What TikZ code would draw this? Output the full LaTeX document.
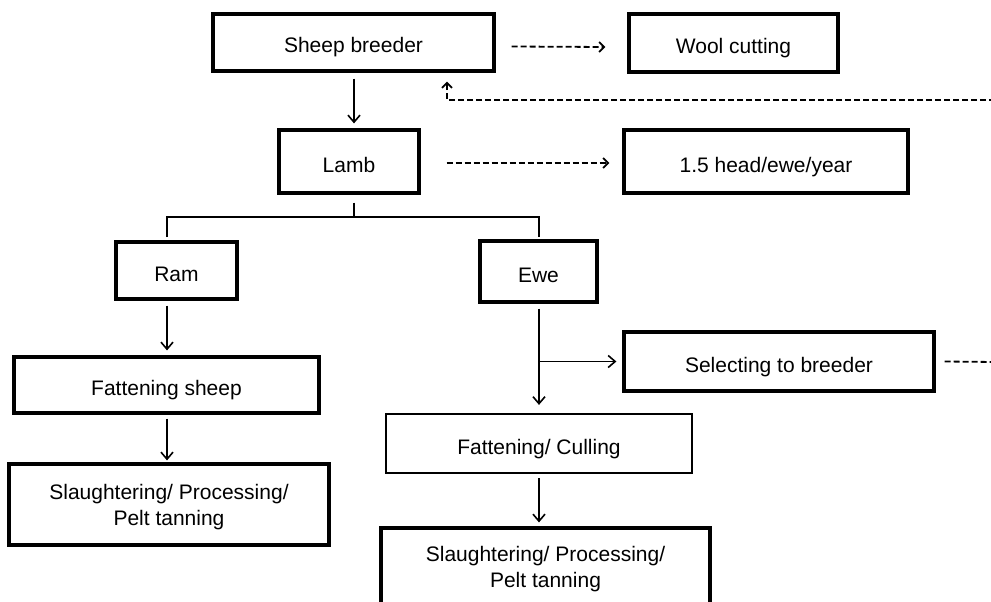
\documentclass[tikz,border=0pt]{standalone}
\usepackage{fontspec}
\setmainfont{Liberation Sans}
\usetikzlibrary{arrows.meta}
\begin{document}
\begin{tikzpicture}[x=1pt,y=-1pt,
  box/.style={draw, line width=3.2pt, inner sep=0pt, align=center, font=\fontsize{21}{26}\selectfont, text depth=0pt},
  onebox/.style={box, text height=21pt},
  thinbox/.style={onebox, line width=2.2pt},
  conn/.style={line width=1.6pt},
  arr/.style={conn, -{Straight Barb[length=7pt,width=12pt,line width=1.6pt]}},
  dline/.style={line width=1.8pt, dash pattern=on 6pt off 3pt},
  darr/.style={dline, -{Straight Barb[length=5pt,width=10pt,line width=1.8pt]}}]
\useasboundingbox (0,0) rectangle (991,602);
\clip (0,0) rectangle (991,602);

% boxes
\node[onebox, minimum width=281pt, minimum height=57pt] (breeder) at (353.5,42.5) {Sheep breeder};
\node[onebox, minimum width=209pt, minimum height=58pt] (wool) at (733.5,43) {Wool cutting};
\node[onebox, minimum width=140pt, minimum height=63pt] (lamb) at (349,161.5) {Lamb};
\node[onebox, minimum width=284pt, minimum height=63pt] (head) at (766,161.5) {1.5 head/ewe/year};
\node[onebox, minimum width=121pt, minimum height=57pt] (ram) at (176.5,270.5) {Ram};
\node[onebox, minimum width=117pt, minimum height=61pt] (ewe) at (538.5,271.5) {Ewe};
\node[onebox, minimum width=305pt, minimum height=56pt] (fatsheep) at (166.5,385) {Fattening sheep};
\node[onebox, minimum width=310pt, minimum height=59pt] (select) at (779,361.5) {Selecting to breeder};
\node[thinbox, minimum width=306pt, minimum height=59pt] (fatcull) at (539,443.5) {Fattening/ Culling};
\node[box, minimum width=320pt, minimum height=81pt] (slaughterL) at (169,504.5) {Slaughtering/ Processing/\\Pelt tanning};
\node[box, minimum width=329pt, minimum height=77pt] (slaughterR) at (545.5,566.5) {Slaughtering/ Processing/\\Pelt tanning};

% tree connectors
\coordinate (j) at (354,217);
\coordinate (tl) at (167,237);
\coordinate (tr) at (539,237);
\draw[arr] ([yshift=-6pt]breeder.south -| j) -- ([yshift=5pt]lamb.north -| j);
\draw[conn] ([yshift=-8pt]lamb.south -| j) -- (j);
\draw[conn] (tl) -- (tl |- j) -- (tr |- j) -- (tr);
\draw[arr] ([yshift=-5pt]ram.south -| tl) -- ([yshift=5pt]fatsheep.north -| tl);
\draw[arr] ([yshift=-4pt]fatsheep.south -| tl) -- ([yshift=2pt]slaughterL.north -| tl);
\draw[arr] ([yshift=-5pt]ewe.south -| tr) -- ([yshift=8pt]fatcull.north -| tr);
\coordinate (b) at (tr |- select);
\draw[arr] (b) -- ([xshift=-6pt]select.west);
\draw[arr] ([yshift=-4pt]fatcull.south -| tr) -- ([yshift=4pt]slaughterR.north -| tr);

% dashed connectors
\draw[darr] ([xshift=16pt,yshift=-4pt]breeder.east) -- ([xshift=-22pt,yshift=-4pt]wool.west);
\draw[darr] ([xshift=26pt,yshift=-1.5pt]lamb.east) -- ([xshift=-13pt,yshift=-1.5pt]head.west);
\coordinate (fb) at (995,100);
\draw[darr] (fb) -| ([xshift=93.5pt,yshift=-9pt]breeder.south);
\coordinate (sr) at (995,362);
\draw[dline] ([xshift=9pt]select.east) -- (sr);
\end{tikzpicture}
\end{document}
